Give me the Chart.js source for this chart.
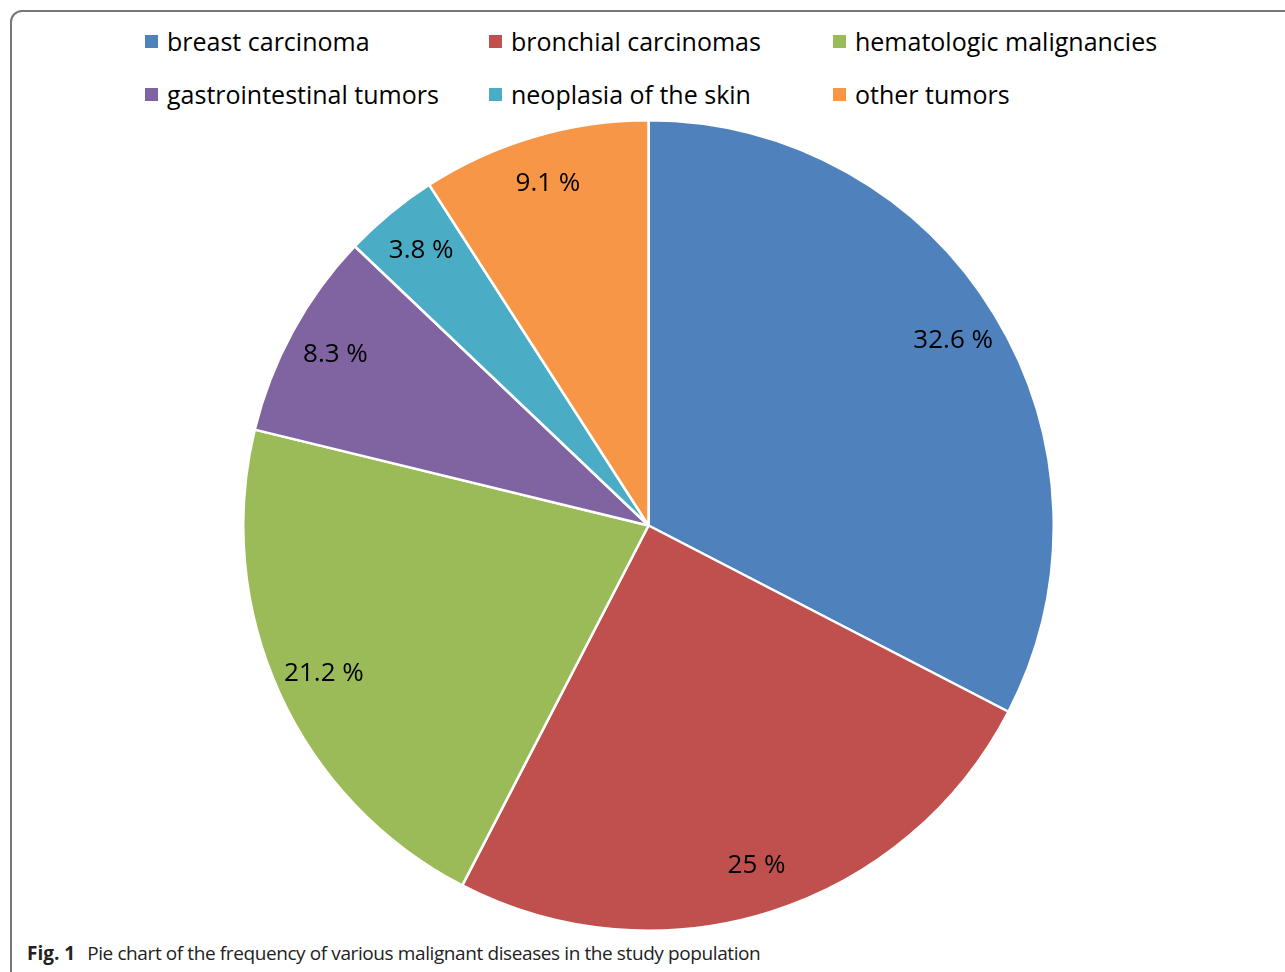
<!DOCTYPE html>
<html>
<head>
<meta charset="utf-8">
<script src="https://cdn.jsdelivr.net/npm/chart.js@4.4.0/dist/chart.umd.min.js"></script>
<style>
  html, body { margin: 0; padding: 0; background: #fff; }
  body { width: 1285px; height: 972px; position: relative; overflow: hidden; font-family: "Open Sans", sans-serif; }
  .frame {
    position: absolute; left: 10px; top: 10px; width: 1320px; height: 1000px;
    border: 2px solid #777; border-radius: 12px; box-sizing: border-box;
  }
  .legend {
    position: absolute; left: 145px; top: 23px;
    display: grid; grid-template-columns: 344px 344px 344px; row-gap: 17px;
  }
  .legend-item { display: flex; align-items: center; font-size: 25px; color: #000; height: 36px; white-space: nowrap; }
  .legend-item span.box { width: 13px; height: 13px; margin-right: 9px; display: inline-block; }
  .chart-box { position: absolute; left: 242px; top: 119px; width: 813px; height: 813px; }
  .caption {
    position: absolute; left: 27px; top: 940px; font-size: 19px; color: #222;
    font-family: "Open Sans", sans-serif; white-space: nowrap;
  }
  .caption b { margin-right: 12px; }
  .caption span { letter-spacing: -0.4px; }
</style>
</head>
<body>
<div class="frame"></div>
<div class="legend" id="legend"></div>
<div class="chart-box"><canvas id="pieChart"></canvas></div>
<div class="caption"><b>Fig. 1</b><span>Pie chart of the frequency of various malignant diseases in the study population</span></div>

<script>
const categories = ['breast carcinoma', 'bronchial carcinomas', 'hematologic malignancies',
  'gastrointestinal tumors', 'neoplasia of the skin', 'other tumors'];
const percentages = [32.6, 25, 21.2, 8.3, 3.8, 9.1];
const sliceColors = ['#4F81BD', '#C0504D', '#9BBB59', '#8064A2', '#4BACC6', '#F79646'];

// draws "xx %" inside each slice, near the rim
const sliceLabels = {
  id: 'sliceLabels',
  afterDatasetsDraw(chart) {
    const ctx = chart.ctx;
    const meta = chart.getDatasetMeta(0);
    ctx.save();
    ctx.font = '26px "Open Sans", sans-serif';
    ctx.fillStyle = '#000';
    ctx.textAlign = 'center';
    ctx.textBaseline = 'middle';
    meta.data.forEach((arc, i) => {
      const mid = (arc.startAngle + arc.endAngle) / 2;
      const r = arc.outerRadius * 0.88;
      ctx.fillText(percentages[i] + ' %', arc.x + Math.cos(mid) * r, arc.y + Math.sin(mid) * r);
    });
    ctx.restore();
  }
};

const chart = new Chart(document.getElementById('pieChart'), {
  type: 'pie',
  data: {
    labels: categories,
    datasets: [{
      data: percentages,
      backgroundColor: sliceColors,
      borderColor: '#fff',
      borderWidth: 2.5
    }]
  },
  options: {
    responsive: true,
    maintainAspectRatio: false,
    animation: false,
    layout: { padding: 0 },
    plugins: {
      legend: { display: false },
      tooltip: { enabled: false }
    }
  },
  plugins: [sliceLabels]
});

// html legend in three fixed columns
const legendEl = document.getElementById('legend');
chart.data.labels.forEach((label, i) => {
  const item = document.createElement('div');
  item.className = 'legend-item';
  item.innerHTML = `<span class="box" style="background:${sliceColors[i]}"></span>${label}`;
  legendEl.appendChild(item);
});
</script>
</body>
</html>
